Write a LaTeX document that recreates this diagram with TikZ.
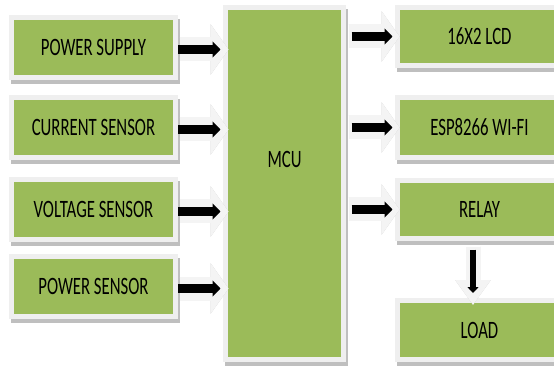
\documentclass[tikz,border=0pt]{standalone}
\usepackage{fontspec}
\newfontfamily\blkfont[FakeStretch=0.67]{Carlito}
\usetikzlibrary{arrows.meta,shadows}
\definecolor{blkGreen}{HTML}{9BBB59}
\definecolor{blkEdge}{HTML}{EFEFEF}
\definecolor{blkShadow}{HTML}{BFBFBF}
\definecolor{arrLight}{HTML}{F4F4F4}
\definecolor{arrShade}{HTML}{CACACA}
\tikzset{
	blk/.style={draw=blkEdge, line width=5pt, fill=blkGreen, inner sep=0pt,
		minimum width=164pt, minimum height=60pt,
		font=\blkfont\fontsize{25}{25}\selectfont,
		general shadow={shadow xshift=2pt, shadow yshift=-4pt, fill=blkShadow, draw=blkShadow}},
	fat/.style={draw=black, line width=9pt, -{Triangle[length=8pt,width=16pt]}},
	fatback/.style={draw=arrLight, line width=24pt, -{Triangle[length=18pt,width=50pt]}},
	fatshade/.style={draw=arrShade, line width=24pt, -{Triangle[length=18pt,width=50pt]}, xshift=2pt, yshift=-3pt},
	thin/.style={draw=black, line width=6pt, -{Triangle[length=6pt,width=11pt]}},
	thinback/.style={draw=arrLight, line width=15pt, -{Triangle[length=25pt,width=34pt]}},
	thinshade/.style={draw=arrShade, line width=15pt, -{Triangle[length=25pt,width=34pt]}, xshift=2pt, yshift=-3pt}
}

\begin{document}
\begin{tikzpicture}[x=1pt, y=-1pt]
	\useasboundingbox (0,0) rectangle (554,366);
	\node[blk] (pwr) at (93.5, 47.5) {POWER SUPPLY};
	\node[blk] (cur) at (93.5, 127.5) {CURRENT SENSOR};
	\node[blk] (volt) at (93.5, 209.5) {VOLTAGE SENSOR};
	\node[blk] (psen) at (93.5, 286.5) {POWER SENSOR};
	\node[blk, minimum width=118pt, minimum height=352pt] (mcu) at (284.5, 183.5) {};
	\node[font=\blkfont\fontsize{25}{25}\selectfont, inner sep=0pt] (mcul) at (284.5, 159) {MCU};
	\node[blk, minimum height=58pt] (lcd) at (479.5, 36.5) {16X2 LCD};
	\node[blk] (esp) at (479.5, 127.5) {ESP8266 WI-FI};
	\node[blk, minimum height=58pt] (relay) at (479.5, 209.5) {RELAY};
	\node[blk, minimum height=59pt] (load) at (479.5, 330) {LOAD};
	\foreach \src in {pwr,cur,volt,psen}{
		\draw[fatshade, shorten <=1.5pt, shorten >=-5.5pt] ([yshift=-2pt]\src.east) -- ([yshift=-2pt]\src.east -| mcu.west);
		\draw[fatback, shorten <=1.5pt, shorten >=-5.5pt] ([yshift=-2pt]\src.east) -- ([yshift=-2pt]\src.east -| mcu.west);
		\draw[fat, shorten >=2.5pt] ([yshift=-2pt]\src.east) -- ([yshift=-2pt]\src.east -| mcu.west);
	}
	\foreach \dst in {lcd,esp,relay}{
		\draw[fatshade, shorten <=2.5pt, shorten >=-4.5pt] (mcu.east |- \dst.west) -- (\dst.west);
		\draw[fatback, shorten <=2.5pt, shorten >=-4.5pt] (mcu.east |- \dst.west) -- (\dst.west);
		\draw[fat, shorten <=5.5pt, shorten >=2.5pt] (mcu.east |- \dst.west) -- (\dst.west);
	}
	\draw[thinshade, shorten <=5.5pt, shorten >=-7pt] ([xshift=-6.5pt]relay.south) -- ([xshift=-6.5pt]load.north);
	\draw[thinback, shorten <=5.5pt, shorten >=-7pt] ([xshift=-6.5pt]relay.south) -- ([xshift=-6.5pt]load.north);
	\draw[thin, shorten <=8.5pt, shorten >=5pt] ([xshift=-6.5pt]relay.south) -- ([xshift=-6.5pt]load.north);
\end{tikzpicture}
\end{document}
